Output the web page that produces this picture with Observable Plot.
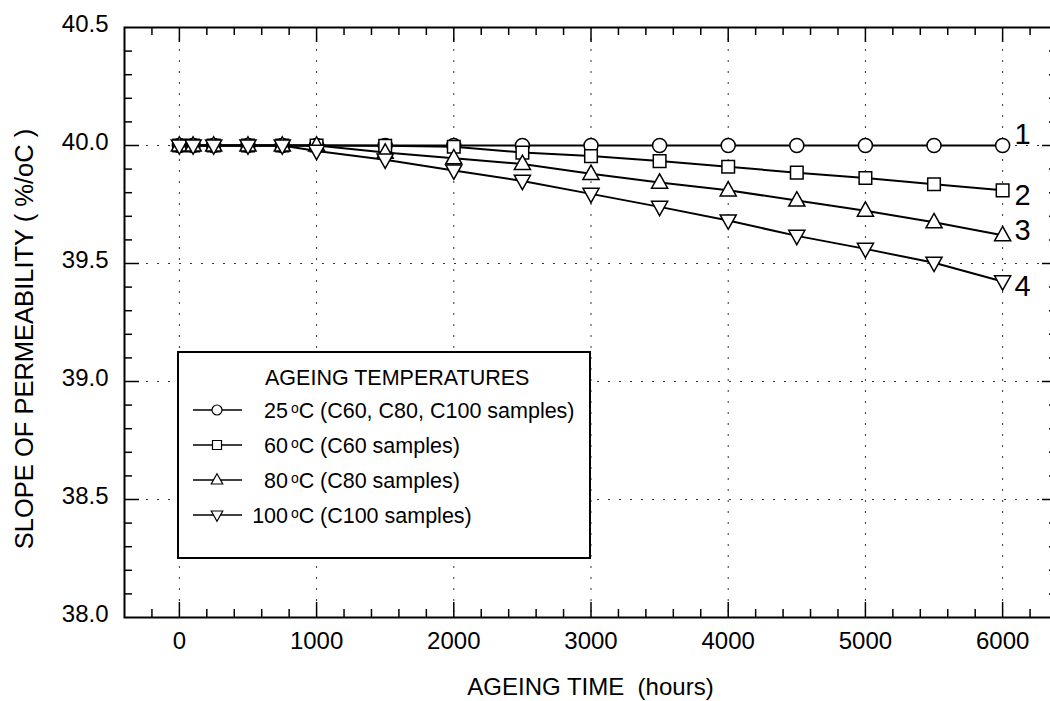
<!DOCTYPE html>
<html>
<head>
<meta charset="utf-8">
<script src="https://cdn.jsdelivr.net/npm/d3@7"></script>
<script src="https://cdn.jsdelivr.net/npm/@observablehq/plot@0.6"></script>
<style>
  html, body { margin: 0; padding: 0; background: #fff; overflow: hidden; width: 1050px; height: 701px; }
  #chart svg { display: block; max-width: none !important; }
</style>
</head>
<body>
<div id="chart"></div>
<script>
// ---------- data ----------
const hours = [0, 100, 250, 500, 750, 1000, 1500, 2000, 2500, 3000, 3500, 4000, 4500, 5000, 5500, 6000];
const s25  = [40, 40, 40, 40, 40, 40, 40, 40, 40, 40, 40, 40, 40, 40, 40, 40];
const s60  = [40, 40, 40, 40, 40, 40, 39.999, 39.995, 39.97, 39.955, 39.934, 39.91, 39.885, 39.862, 39.836, 39.81];
const s80  = [40, 40, 40, 40, 40, 40, 39.97, 39.946, 39.922, 39.88, 39.843, 39.81, 39.767, 39.724, 39.675, 39.62];
const s100 = [40, 40, 40, 40, 40, 39.977, 39.94, 39.894, 39.85, 39.795, 39.74, 39.682, 39.617, 39.562, 39.503, 39.424];
const seriesKeys = ["25", "60", "80", "100"];
const seriesLabels = ["1", "2", "3", "4"];
const legendTemps = ["25", "60", "80", "100"];
const legendSamples = ["(C60, C80, C100 samples)", "(C60 samples)", "(C80 samples)", "(C100 samples)"];
const legendTitle = "AGEING TEMPERATURES";
const xTickLabels = [0, 1000, 2000, 3000, 4000, 5000, 6000];
const yTickLabels = [38.0, 38.5, 39.0, 39.5, 40.0, 40.5];
const xMinorTicks = d3.range(-200, 6400, 200).filter(d => d % 1000 !== 0);
const yMinorTicks = d3.range(381, 405, 1).map(d => d / 10).filter(d => Math.round(d * 10) % 5 !== 0);
const yGrid = [38.5, 39.0, 39.5, 40.0];
const xTitle = "AGEING TIME  (hours)";
const yTitle = "SLOPE OF PERMEABILITY ( %/oC )";

// ---------- table ----------
const allSeries = [s25, s60, s80, s100];
const rows = [];
allSeries.forEach((vals, i) => hours.forEach((h, j) => rows.push({hour: h, value: vals[j], series: seriesKeys[i]})));

// ---------- symbols ----------
const symCircle = {draw(c, size) { const r = Math.sqrt(size / Math.PI); c.moveTo(r, 0); c.arc(0, 0, r, 0, 2 * Math.PI); }};
const symSquare = {draw(c, size) { const r = Math.sqrt(size / Math.PI) * 0.9; c.rect(-r, -r, 2 * r, 2 * r); }};
const symUp = {draw(c, size) { const r = Math.sqrt(size / Math.PI); const w = r * 1.15, t = r * 1.25, b = r * 0.8;
  c.moveTo(0, -t); c.lineTo(w, b); c.lineTo(-w, b); c.closePath(); }};
const symDown = {draw(c, size) { const r = Math.sqrt(size / Math.PI); const w = r * 1.15, t = r * 1.25, b = r * 0.8;
  c.moveTo(0, t); c.lineTo(w, -b); c.lineTo(-w, -b); c.closePath(); }};
const symbols = [symCircle, symSquare, symUp, symDown];

// ---------- layout ----------
const W = 1060, H = 701, mL = 124, mR = 3, mT = 27, mB = 84;
const innerW = W - mL - mR, innerH = H - mT - mB;
const FONT = "'Liberation Sans', Arial, Helvetica, sans-serif";
const majorLen = 15, minorLen = 8;
const labelDy = [-11, 5, -4, 5];

const dotMarks = seriesKeys.map((k, i) =>
  Plot.dot(rows.filter(r => r.series === k), {x: "hour", y: "value", r: 7, symbol: symbols[i], fill: "white", stroke: "black", strokeWidth: 1.5})
);
const labelMarks = seriesKeys.map((k, i) =>
  Plot.text([{hour: hours[hours.length - 1], value: allSeries[i][allSeries[i].length - 1], label: seriesLabels[i]}],
    {x: "hour", y: "value", text: "label", dx: 12, dy: labelDy[i], textAnchor: "start", fontSize: 29, fill: "black"})
);

const chart = Plot.plot({
  width: W, height: H,
  marginLeft: mL, marginRight: mR, marginTop: mT, marginBottom: mB,
  style: {fontFamily: FONT, background: "white", color: "black"},
  x: {domain: [-400, 6400]},
  y: {domain: [38, 40.5]},
  marks: [
    Plot.ruleX(xTickLabels, {stroke: "#333", strokeWidth: 1, strokeDasharray: "2,9"}),
    Plot.ruleY(yGrid, {stroke: "#333", strokeWidth: 1, strokeDasharray: "2,9"}),
    // ticks (inward on all four sides)
    Plot.tickX(xTickLabels, {x: d => d, insetTop: innerH - majorLen, stroke: "black", strokeWidth: 1.5}),
    Plot.tickX(xTickLabels, {x: d => d, insetBottom: innerH - majorLen, stroke: "black", strokeWidth: 1.5}),
    Plot.tickX(xMinorTicks, {x: d => d, insetTop: innerH - minorLen, stroke: "black", strokeWidth: 1.5}),
    Plot.tickX(xMinorTicks, {x: d => d, insetBottom: innerH - minorLen, stroke: "black", strokeWidth: 1.5}),
    Plot.tickY(yGrid, {y: d => d, insetRight: innerW - majorLen, stroke: "black", strokeWidth: 1.5}),
    Plot.tickY(yGrid, {y: d => d, insetLeft: innerW - majorLen, stroke: "black", strokeWidth: 1.5}),
    Plot.tickY(yMinorTicks, {y: d => d, insetRight: innerW - minorLen, stroke: "black", strokeWidth: 1.5}),
    Plot.tickY(yMinorTicks, {y: d => d, insetLeft: innerW - minorLen, stroke: "black", strokeWidth: 1.5}),
    Plot.axisX(xTickLabels, {tickSize: 0, tickPadding: 14, fontSize: 24, tickFormat: d => String(d), label: null}),
    Plot.axisY(yTickLabels, {tickSize: 0, tickPadding: 16, fontSize: 24, dy: -3, tickFormat: d3.format(".1f"), label: null}),
    Plot.line(rows, {x: "hour", y: "value", z: "series", stroke: "black", strokeWidth: 2}),
    ...dotMarks,
    ...labelMarks,
    Plot.frame({stroke: "black", strokeWidth: 2})
  ]
});

const svg = d3.select(chart);
svg.style("max-width", "none").style("height", H + "px");

// axis titles
svg.append("text")
  .attr("x", mL + innerW / 2).attr("y", 695)
  .attr("text-anchor", "middle").attr("font-size", 24).attr("font-family", FONT)
  .style("white-space", "pre").attr("fill", "black").text(xTitle);
svg.append("text")
  .attr("transform", "translate(33,339) rotate(-90)")
  .attr("text-anchor", "middle").attr("font-size", 25.5).attr("font-family", FONT)
  .style("white-space", "pre").attr("fill", "black").text(yTitle);

// legend
const LF = 21.5;
const lg = svg.append("g").attr("font-family", FONT).attr("fill", "black").attr("text-anchor", "start");
lg.append("rect").attr("x", 178).attr("y", 352).attr("width", 412).attr("height", 206)
  .attr("fill", "white").attr("stroke", "black").attr("stroke-width", 2);
lg.append("text").attr("x", 265).attr("y", 385).attr("font-size", LF).attr("text-anchor", "start").text(legendTitle);
legendTemps.forEach((t, i) => {
  const cy = 410 + i * 35;
  lg.append("line").attr("x1", 193).attr("x2", 242).attr("y1", cy).attr("y2", cy)
    .attr("stroke", "black").attr("stroke-width", 1.5);
  lg.append("path").attr("transform", `translate(217,${cy})`)
    .attr("d", d3.symbol().type(symbols[i]).size(Math.PI * 25)())
    .attr("fill", "white").attr("stroke", "black").attr("stroke-width", 1.2);
  lg.append("text").attr("x", 288).attr("y", cy + 7.5).attr("font-size", LF).attr("text-anchor", "end").text(t);
  const tx = lg.append("text").attr("x", 291).attr("y", cy + 7.5).attr("font-size", LF).attr("text-anchor", "start");
  tx.append("tspan").attr("font-size", 14).attr("dy", -5).text("o");
  tx.append("tspan").attr("dy", 5).text("C");
  lg.append("text").attr("x", 320).attr("y", cy + 7.5).attr("font-size", LF).attr("text-anchor", "start").text(legendSamples[i]);
});

document.getElementById("chart").appendChild(chart);
</script>
</body>
</html>
